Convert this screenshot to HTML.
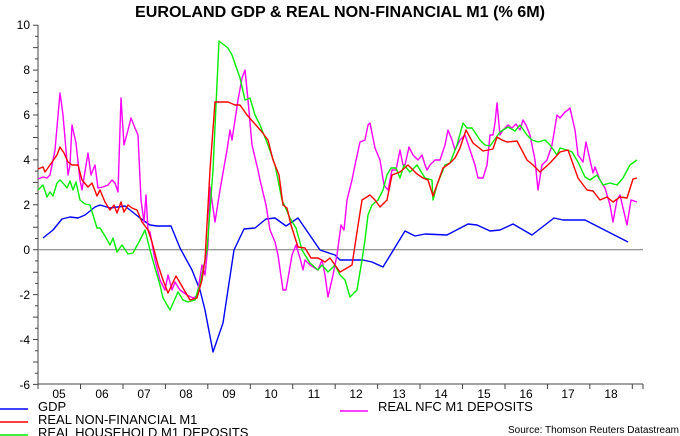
<!DOCTYPE html>
<html><head><meta charset="utf-8"><style>
html,body{margin:0;padding:0;background:#fff;}
svg{display:block;font-family:"Liberation Sans",Arial,sans-serif;}
</style></head><body>
<svg width="680" height="436" viewBox="0 0 680 436" xmlns="http://www.w3.org/2000/svg">
<text x="340" y="17" text-anchor="middle" font-size="16" font-weight="bold" textLength="410" lengthAdjust="spacingAndGlyphs">EUROLAND GDP &amp; REAL NON-FINANCIAL M1 (% 6M)</text>
<g stroke="#444" stroke-width="1" fill="none">
<line x1="38" y1="25" x2="38" y2="384"/>
<line x1="38" y1="384" x2="643" y2="384"/>
<line x1="38" y1="249.7" x2="643" y2="249.7" stroke="#777"/>
<path d="M38 25.2h-5M38 36.4h-3M38 47.6h-5M38 58.9h-3M38 70.1h-5M38 81.3h-3M38 92.5h-5M38 103.8h-3M38 115h-5M38 126.2h-3M38 137.5h-5M38 148.7h-3M38 159.9h-5M38 171.1h-3M38 182.4h-5M38 193.6h-3M38 204.8h-5M38 216h-3M38 227.3h-5M38 238.5h-3M38 249.7h-5M38 260.9h-3M38 272.2h-5M38 283.4h-3M38 294.6h-5M38 305.8h-3M38 317.1h-5M38 328.3h-3M38 339.5h-5M38 350.7h-3M38 362h-5M38 373.2h-3M38 384.4h-5"/>
<path d="M38 384v5M80.5 384v5M123 384v5M165.4 384v5M207.8 384v5M250.3 384v5M292.7 384v5M335.2 384v5M377.6 384v5M420 384v5M462.5 384v5M505 384v5M547.4 384v5M589.8 384v5M632.3 384v5M643 384v5"/>
</g>
<g font-size="12" text-anchor="end">
<text x="30" y="29">10</text><text x="30" y="74">8</text><text x="30" y="119">6</text><text x="30" y="164">4</text><text x="30" y="209">2</text><text x="30" y="254">0</text><text x="30" y="299">-2</text><text x="30" y="344">-4</text><text x="30" y="389">-6</text>
</g>
<g font-size="12" text-anchor="middle">
<text x="59" y="398">05</text><text x="102" y="398">06</text><text x="144" y="398">07</text><text x="186" y="398">08</text><text x="229" y="398">09</text><text x="271" y="398">10</text><text x="314" y="398">11</text><text x="356" y="398">12</text><text x="399" y="398">13</text><text x="441" y="398">14</text><text x="484" y="398">15</text><text x="526" y="398">16</text><text x="568" y="398">17</text><text x="611" y="398">18</text>
</g>
<g fill="none" stroke-width="1.4" stroke-linejoin="round">
<polyline stroke="#0000ff" points="43,238 53,230 62,219 70,217 78,218 85,215 95,207 100,205 110,208 125,206 130,210 140,218 150,225 157,226 171,226 180,248 192,270 200,290 205,310 213,352 223,323 234,250 244,229 255,228 266,219 275,218 286,226 298,218 320,250 335,255 340,260 363,260 372,262 383,267 405,231 415,236 425,234 447,235 468,224 477,225 490,231 500,230 513,224 532,235 554,218 563,220 585,220 628,242"/>
<polyline stroke="#ff00ff" points="38,179 43,177 47,178 50,175 55,150 60,93 63,115 66,150 68,175 70,165 72,125 76,143 80,180 82,190 88,153 91,175 95,165 98,188 103,187 108,185 112,180 115,183 118,192 121,98 124,145 128,130 131,118 135,128 138,135 141,200 144,222 146,195 148,230 150,232 155,260 160,280 165,290 168,275 172,290 175,282 180,290 187,295 193,298 197,296 202,265 205,275 208,245 210,187 215,222 220,190 227,150 230,130 232,140 238,100 242,78 245,70 248,100 252,145 258,170 260,180 266,205 270,230 275,242 278,255 283,290 286,290 292,255 296,245 300,258 303,270 305,260 310,265 318,270 322,260 325,275 328,297 333,275 337,255 341,225 344,230 347,200 352,180 355,165 360,142 365,140 368,125 370,123 375,148 380,160 384,185 388,190 392,170 396,170 400,150 403,165 405,165 409,147 413,155 418,160 422,155 425,165 427,170 430,165 435,160 440,160 445,145 448,130 452,140 455,150 460,140 465,135 470,150 475,165 478,178 483,178 487,165 490,135 493,135 495,123 497,103 500,135 503,130 508,125 512,128 516,124 520,130 523,120 526,125 530,135 535,160 538,190 542,165 547,160 552,145 557,115 560,118 565,112 568,110 570,108 575,130 578,155 583,162 586,142 590,160 593,173 595,167 600,180 605,188 610,205 613,222 617,200 620,195 627,225 631,200 637,202"/>
<polyline stroke="#00ee00" points="38,190 43,185 47,197 50,192 53,196 57,183 60,180 63,183 67,188 70,181 73,190 76,182 80,200 85,204 90,205 93,215 97,228 100,228 105,236 110,245 113,238 117,252 122,245 128,254 133,253 140,240 145,230 150,250 155,268 160,285 163,298 170,310 178,292 183,300 188,302 195,300 198,290 200,285 207,250 213,170 219,41 228,48 232,55 240,78 245,100 250,98 255,115 260,125 268,145 275,165 282,200 290,218 296,228 302,250 310,263 318,270 322,265 328,272 335,265 340,275 345,280 350,297 357,290 362,260 365,240 368,215 372,205 378,200 383,190 387,175 391,168 396,168 400,178 404,165 410,172 417,165 425,178 432,180 433,200 437,185 445,165 450,163 457,145 463,123 467,128 472,128 480,140 485,145 490,146 500,132 508,127 515,131 520,125 527,135 532,140 538,142 545,140 550,145 557,155 560,148 567,150 572,152 578,162 585,177 590,180 597,175 603,185 610,183 617,185 623,178 630,165 637,160"/>
<polyline stroke="#ff0000" points="38,169 43,167 45,172 50,165 57,155 60,147 64,153 68,162 72,165 78,165 82,180 88,187 92,183 97,196 100,190 105,202 110,210 114,205 117,213 121,202 124,212 128,205 132,208 137,210 142,222 148,230 152,242 158,265 163,280 168,293 176,276 183,288 190,300 197,298 202,280 205,260 210,170 215,102 228,102 235,105 240,105 247,115 255,124 262,132 268,140 273,160 279,175 283,205 287,208 291,225 298,247 305,248 311,258 318,258 325,262 330,258 340,272 347,268 352,265 357,232 362,200 370,195 375,200 380,207 387,200 392,175 400,172 408,165 417,174 423,178 428,180 433,196 443,168 450,163 455,158 460,148 466,130 473,143 483,151 493,149 497,137 502,140 507,142 517,141 527,160 533,165 540,172 550,163 560,152 568,150 578,178 587,190 593,191 600,200 607,197 613,202 620,197 627,198 633,179 637,178"/>
</g>
<g stroke-width="1.4">
<line x1="0" y1="409" x2="28" y2="409" stroke="#0000ff"/>
<line x1="0" y1="422" x2="28" y2="422" stroke="#ff0000"/>
<line x1="0" y1="435" x2="28" y2="435" stroke="#00ee00"/>
<line x1="340" y1="411" x2="368" y2="411" stroke="#ff00ff"/>
</g>
<g font-size="13">
<text x="38" y="411">GDP</text>
<text x="38" y="424">REAL NON-FINANCIAL M1</text>
<text x="38" y="437">REAL HOUSEHOLD M1 DEPOSITS</text>
<text x="378" y="411">REAL NFC M1 DEPOSITS</text>
</g>
<text x="679" y="433" font-size="10" text-anchor="end">Source: Thomson Reuters Datastream</text>
</svg>
</body></html>
